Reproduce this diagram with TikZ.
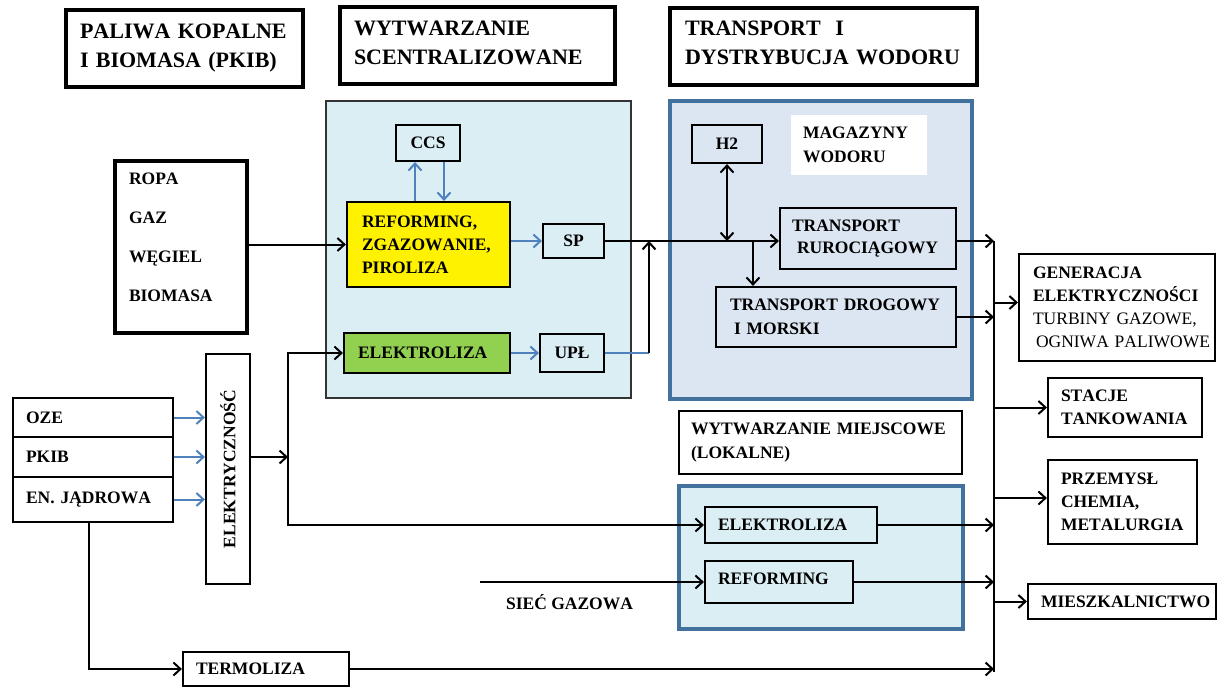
\documentclass[tikz,border=0pt]{standalone}
\usepackage{fontspec}
\setmainfont[Kerning=Off]{Liberation Serif}
\usetikzlibrary{arrows.meta}
\definecolor{lblue}{HTML}{DBEEF4}
\definecolor{tblue}{HTML}{DCE6F2}
\definecolor{frameblue}{HTML}{41719C}
\definecolor{arrblue}{HTML}{4F81BD}
\definecolor{ygreen}{HTML}{92D050}
\newcommand{\xdepth}[1]{\rule[-#1pt]{0pt}{0pt}}
\begin{document}
\begin{tikzpicture}[x=1pt,y=-1pt,
  every node/.style={font=\bfseries\fontsize{17.5}{23}\selectfont, inner sep=0pt},
  bx/.style={draw=black, line width=2.2pt, rectangle, align=left},
  hdr/.style={draw=black, line width=3.4pt, rectangle, align=left, font=\bfseries\fontsize{22}{29}\selectfont},
  conn/.style={draw=black, line width=2pt},
  tip/.style={Straight Barb[length=7pt,width=13pt]},
  arr/.style={conn, -{Straight Barb[length=7pt,width=13pt]}},
  darr/.style={conn, {Straight Barb[length=7pt,width=13pt]}-{Straight Barb[length=7pt,width=13pt]}},
  bline/.style={draw=arrblue, line width=2pt},
  barr/.style={bline, -{Straight Barb[length=7pt,width=13pt]}}
]
\useasboundingbox (0,0) rectangle (1217,686);

% headers
\node[hdr, minimum width=237pt, minimum height=77pt, text width=209pt] (h1) at (184.5,48.5) {PALIWA KOPALNE\\I BIOMASA (PKIB)};
\node[hdr, minimum width=275pt, minimum height=77pt, text width=247pt] (h2) at (477.5,45.5) {WYTWARZANIE\\SCENTRALIZOWANE\xdepth{6}};
\node[hdr, minimum width=307pt, minimum height=77pt, text width=277pt] (h3) at (823.5,46.5) {TRANSPORT\ \ I\\DYSTRYBUCJA WODORU\xdepth{7}};

% centralised production
\node[draw=black!80, line width=1.6pt, fill=lblue, minimum width=305pt, minimum height=297pt] (cb) at (478.5,249.5) {};
\node[bx, minimum width=64pt, minimum height=36pt] (ccs) at (428,143) {CCS};
\node[bx, fill=yellow, minimum width=163pt, minimum height=85pt, text width=133pt] (rf) at (428.5,244.5) {REFORMING,\\ZGAZOWANIE,\\PIROLIZA};
\node[bx, minimum width=61pt, minimum height=34pt] (sp) at (573.5,241) {SP};
\node[bx, fill=ygreen, minimum width=166pt, minimum height=40pt, text width=138pt] (el1) at (427,353) {ELEKTROLIZA};
\node[bx, minimum width=64pt, minimum height=38pt] (upl) at (572,353) {UPŁ};

% fossil fuels
\node[bx, line width=3.2pt, minimum width=132pt, minimum height=172pt, text width=104pt, font=\bfseries\fontsize{17.5}{39}\selectfont] (ropa) at (181,247) {ROPA\\GAZ\\WĘGIEL\\BIOMASA\xdepth{19}};

% transport & distribution
\node[draw=frameblue, line width=3.4pt, fill=tblue, minimum width=302pt, minimum height=298pt] (tb) at (821,250) {};
\node[bx, minimum width=70pt, minimum height=38pt] (h2n) at (727,144) {H2};
\node[fill=white, minimum width=136pt, minimum height=60pt, text width=112pt, align=left, font=\bfseries\fontsize{17.5}{24}\selectfont] (mag) at (859,145) {MAGAZYNY\\WODORU};
\node[bx, minimum width=176pt, minimum height=61pt, text width=152pt, font=\bfseries\fontsize{17.5}{22}\selectfont] (tr) at (868,238.5) {TRANSPORT\\\hspace*{5pt}RUROCIĄGOWY};
\node[bx, minimum width=240pt, minimum height=60pt, text width=212pt, font=\bfseries\fontsize{17.5}{24}\selectfont] (td) at (836,317) {TRANSPORT DROGOWY\\\hspace*{4pt}I MORSKI};

% end uses
\node[bx, minimum width=196pt, minimum height=107pt, text width=168pt] (gen) at (1117,307.5) {GENERACJA\\ELEKTRYCZNOŚCI\\\mbox{\mdseries TURBINY GAZOWE,}\\\hspace*{3pt}\mbox{\mdseries OGNIWA PALIWOWE}};
\node[bx, minimum width=154pt, minimum height=59pt, text width=128pt] (stacje) at (1125,407.5) {STACJE\\TANKOWANIA};
\node[bx, minimum width=149pt, minimum height=84pt, text width=123pt] (prz) at (1122.5,502) {PRZEMYSŁ\\CHEMIA,\\METALURGIA};
\node[bx, minimum width=188pt, minimum height=35pt, text width=162pt] (mie) at (1122,601.5) {\mbox{MIESZKALNICTWO}};

% local production
\node[bx, minimum width=283pt, minimum height=63pt, text width=259pt, font=\bfseries\fontsize{17.5}{24}\selectfont] (wm) at (820.5,442.5) {WYTWARZANIE MIEJSCOWE\\(LOKALNE)};
\node[draw=frameblue, line width=3.4pt, fill=lblue, minimum width=284pt, minimum height=143pt] (lb) at (821,557.5) {};
\node[bx, minimum width=172pt, minimum height=36pt, text width=146pt] (el2) at (791,525) {ELEKTROLIZA};
\node[bx, minimum width=148pt, minimum height=42pt, text width=122pt] (rf2) at (779,582) {REFORMING\xdepth{6}};
\node (sg) at (569.5,602) {SIEĆ GAZOWA};

% electricity sources
\node[bx, minimum width=160pt, minimum height=39pt, text width=134pt] (oze) at (93,417.5) {OZE};
\node[bx, minimum width=160pt, minimum height=40pt, text width=134pt] (pkib) at (93,457) {PKIB};
\node[bx, minimum width=160pt, minimum height=45pt, text width=134pt] (jad) at (93,499.5) {EN. JĄDROWA};
\node[bx, rotate=90, minimum width=230pt, minimum height=44pt] (elec) at (228,469) {ELEKTRYCZNOŚĆ};
\node[bx, minimum width=166pt, minimum height=34pt, text width=140pt] (term) at (266,669) {TERMOLIZA};

% helper coordinates
\coordinate (cu) at ([xshift=-13.5pt]rf.north);
\coordinate (cd) at ([xshift=15.5pt]rf.north);
\coordinate (k1) at (649,353);
\coordinate (br) at (753,241);
\coordinate (bt) at (994,241);
\coordinate (bb) at (994,672);
\coordinate (g) at ([yshift=5pt]gen.west);
\coordinate (p) at ([yshift=4pt]prz.west);
\coordinate (sgs) at (480,580);
\coordinate (j1) at (288,457);
\coordinate (jt) at ([xshift=-4pt]jad.south);

% centralised connectors
\draw[arr] (ropa.east |- rf.west) -- (rf.west);
\draw[barr] (cu) -- (cu |- ccs.south);
\draw[barr] (cd |- ccs.south) -- (cd);
\draw[barr] (rf.east |- sp.west) -- (sp.west);
\draw[barr] (el1.east) -- (upl.west);
\draw[bline] (upl.east) -- (k1);
\draw[arr] (k1) -- (k1 |- sp.east);
\draw[arr] (sp.east) -- (sp.east -| tr.west);
\draw[darr] (h2n.south) -- (h2n.south |- sp.east);
\draw[arr] (br) -- (br |- td.north);

% bus and end uses
\draw[conn] (bt) -- (bb);
\draw[arr] (tr.east |- bt) -- (bt);
\draw[arr] (td.east) -- (td.east -| bt);
\draw[arr] (g -| bt) -- (g);
\draw[arr] (stacje.west -| bt) -- (stacje.west);
\draw[arr] (p -| bt) -- (p);
\draw[arr] (mie.west -| bt) -- (mie.west);
\draw[arr] (el2.east) -- (el2.east -| bt);
\draw[arr] (rf2.east) -- (rf2.east -| bt);
\draw[arr] (term.east) -- (term.east -| bt);
\draw[arr] (sgs |- rf2.west) -- (rf2.west);

% electricity (elec is rotated: its north side faces left, its south side faces right)
\draw[barr] (oze.east) -- (oze.east -| elec.north);
\draw[barr] (pkib.east) -- (pkib.east -| elec.north);
\draw[barr] (jad.east) -- (jad.east -| elec.north);
\draw[arr] (elec.south |- j1) -- (j1);
\draw[arr] (j1) |- (el1.west);
\draw[arr] (j1) |- (el2.west);
\draw[arr] (jt) |- (term.west);
\end{tikzpicture}
\end{document}
